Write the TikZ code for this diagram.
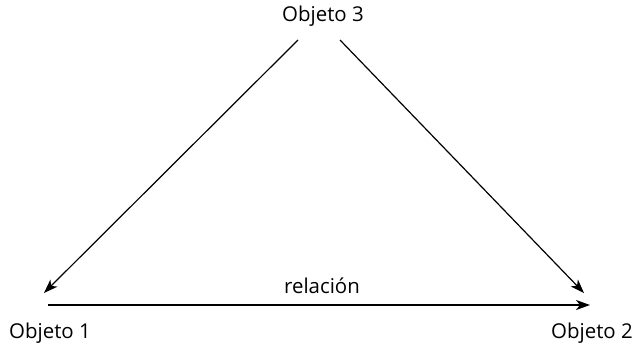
\documentclass[tikz,border=0pt]{standalone}
\usepackage{fontspec}
\setmainfont{Open Sans}
\usetikzlibrary{positioning,arrows.meta}

\begin{document}
\begin{tikzpicture}[x=1bp, y=-1bp, line width=1.2bp,
    objlabel/.style={font=\fontsize{20.5}{24}\selectfont, inner sep=0pt},
    rel/.style={-{Stealth[length=14bp, width=10bp, inset=4bp]}}]
        \useasboundingbox (0,0) rectangle (637,347);
        \node[objlabel] (obj3) at (323,16) {Objeto 3};
        \node[objlabel] (obj1) at (50,333) {Objeto 1};
        \node[objlabel] (obj2) at (592,333) {Objeto 2};
        \node[objlabel] (rellabel) at (322,286) {relación};
        \coordinate (a3l) at (298,40);
        \coordinate (a3r) at (340,40);
        \coordinate (a1) at (44,293);
        \coordinate (a2) at (584,293);
        \coordinate (h1) at (48,305);
        \coordinate (h2) at (590,305);
        \draw[rel] (a3l) -- (a1);
        \draw[rel] (a3r) -- (a2);
        \draw[rel, line width=1.5bp] (h1) -- (h2);
      \end{tikzpicture}
\end{document}
